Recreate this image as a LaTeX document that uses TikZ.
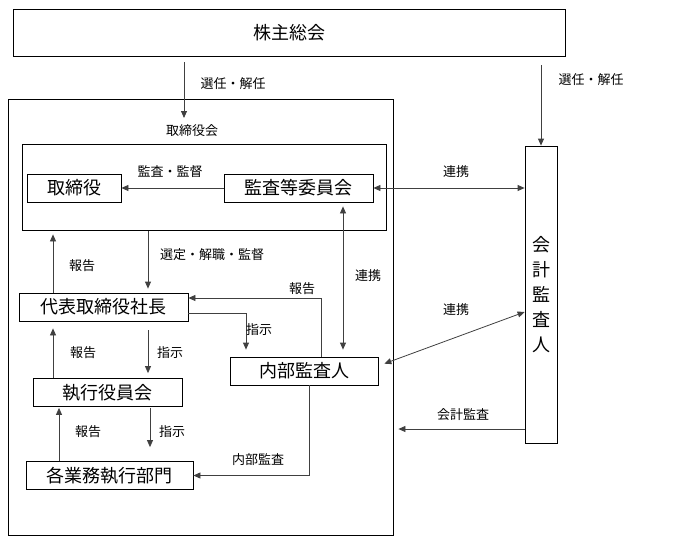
\documentclass[tikz,border=0pt]{standalone}
\usepackage{fontspec}
\setmainfont{Noto Sans CJK JP}
\usetikzlibrary{arrows.meta}

\tikzset{
  box/.style={draw, line width=0.8pt, minimum height=28, inner sep=0, font=\fontsize{18}{20}\selectfont},
  lab/.style={font=\fontsize{13}{15}\selectfont, inner sep=0},
  arr/.style={draw=black!75, line width=0.8pt, -{Triangle[length=7pt,width=6pt]}},
  arrs/.style={draw=black!75, line width=0.8pt, {Triangle[length=7pt,width=6pt]}-{Triangle[length=7pt,width=6pt]}}
}

\begin{document}
\begin{tikzpicture}[x=1pt,y=-1pt]
\useasboundingbox (0,0) rectangle (677,541);

% frames
\node (gm) [box, minimum width=552, minimum height=47] at (289,32.5) {株主総会};
\node (frame) [draw, line width=0.8pt, minimum width=385, minimum height=436] at (200.5,317) {};
\node (inner) [draw, line width=0.8pt, minimum width=364, minimum height=86] at (204,187) {};

\node (tori) [box, minimum width=94] at (74,188) {取締役};
\node (iinkai) [box, minimum width=149] at (298.5,188) {監査等委員会};
\node (daihyo) [box, minimum width=169] at (103.5,307) {代表取締役社長};
\node (naibu) [box, minimum width=148] at (304,371) {内部監査人};
\node (shikkou) [box, minimum width=149] at (107.5,392.5) {執行役員会};
\node (kaku) [box, minimum width=167] at (109.5,475.5) {各業務執行部門};
\node (ka) [box, minimum width=32, minimum height=297, align=center,
  font=\fontsize{18}{25}\selectfont] at (541,294.5) {会\\計\\監\\査\\人};

\path
  (184,118) coordinate(e1)
  (53,0) coordinate(xa)
  (148,0) coordinate(xb)
  (59,0) coordinate(xc)
  (150,0) coordinate(xd)
  (309,0) coordinate(xf)
  (343,0) coordinate(xv)
  (321,298) coordinate(hp1)
  (246,313) coordinate(hp2)
  (0,312) coordinate(yd)
  (0,429) coordinate(ya);

\draw[arr, shorten <=6pt] (gm.south -| e1) -- (e1);
\draw[arr, shorten <=9pt] (gm.south -| ka.north) -- (ka.north);
\draw[arr] (iinkai.west) -- (tori.east);
\draw[arrs] (iinkai.east) -- (iinkai.east -| ka.west);
\draw[arr, shorten >=4pt] (daihyo.north -| xa) -- (inner.south -| xa);
\draw[arr, shorten <=1pt, shorten >=4pt] (inner.south -| xb) -- (daihyo.north -| xb);
\draw[arrs, shorten <=4pt, shorten >=7pt] (iinkai.south -| xv) -- (naibu.north -| xv);
\draw[arr] (naibu.north -| hp1) -- (hp1) -- (hp1 -| daihyo.east);
\draw[arr, shorten >=7pt] (hp2 -| daihyo.east) -- (hp2) -- (hp2 |- naibu.north);
\draw[arrs, shorten <=1pt] ([shift={(5,-7)}]naibu.east) -- (ka.west |- yd);
\draw[arr, shorten >=5pt] (ka.west |- ya) -- (frame.east |- ya);
\draw[arr, shorten >=7pt] (shikkou.north -| xa) -- (daihyo.south -| xa);
\draw[arr, shorten <=9pt, shorten >=5pt] (daihyo.south -| xb) -- (shikkou.north -| xb);
\draw[arr, shorten >=1pt] (kaku.north -| xc) -- (shikkou.south -| xc);
\draw[arr, shorten <=1pt, shorten >=14pt] (shikkou.south -| xd) -- (kaku.north -| xd);
\draw[arr] (naibu.south -| xf) |- (kaku.east);

% labels
\node (l1) [lab] at (233,84) {選任・解任};
\node (l2) [lab] at (591,80) {選任・解任};
\node (l3) [lab] at (192,131) {取締役会};
\node (l4) [lab] at (170,172) {監査・監督};
\node (l5) [lab] at (456,172) {連携};
\node (l6) [lab] at (82,266) {報告};
\node (l7) [lab] at (212,255) {選定・解職・監督};
\node (l8) [lab] at (368,276) {連携};
\node (l9) [lab] at (302,289) {報告};
\node (l10) [lab] at (259,330) {指示};
\node (l11) [lab] at (83,353) {報告};
\node (l12) [lab] at (170,353) {指示};
\node (l13) [lab] at (456,310) {連携};
\node (l14) [lab] at (463,415) {会計監査};
\node (l15) [lab] at (88,432) {報告};
\node (l16) [lab] at (172,432) {指示};
\node (l17) [lab] at (258,460) {内部監査};
\end{tikzpicture}
\end{document}
